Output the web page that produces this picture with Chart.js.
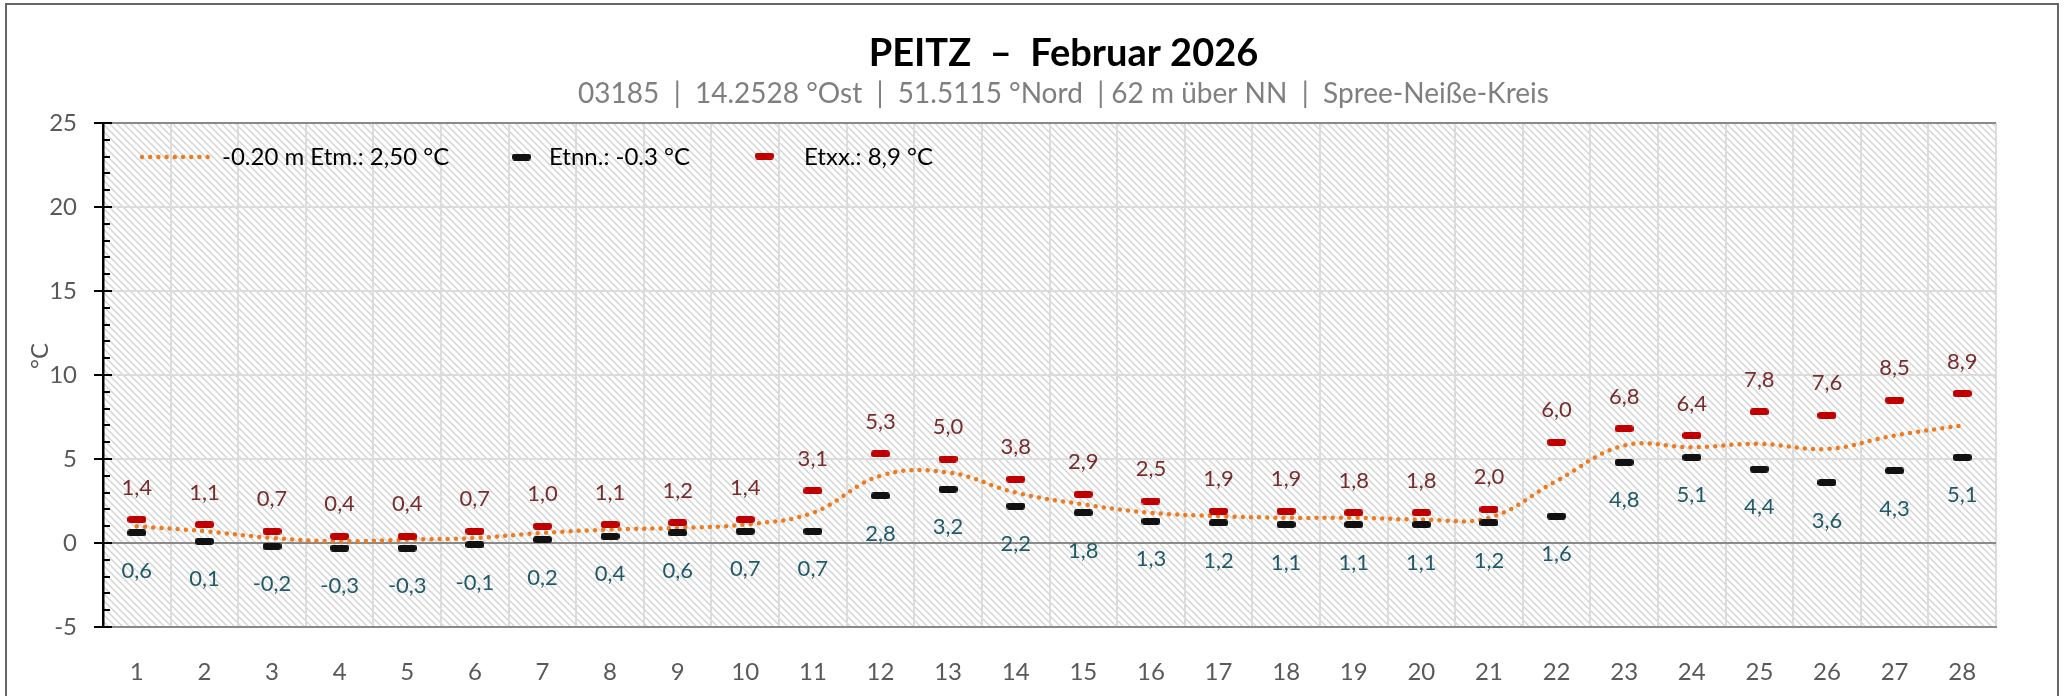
<!DOCTYPE html>
<html lang="de">
<head>
<meta charset="utf-8">
<title>Peitz – Februar 2026</title>
<script src="https://cdn.jsdelivr.net/npm/chart.js@4.4.1/dist/chart.umd.min.js"></script>
<style>
  html, body { margin: 0; padding: 0; background: #fff; }
  #wrap { width: 2068px; height: 696px; position: relative; }
</style>
</head>
<body>
<div id="wrap"><canvas id="ct-chart"></canvas></div>
<script>
"use strict";

// Tage im Februar
const tage = ["1", "2", "3", "4", "5", "6", "7", "8", "9", "10", "11", "12", "13", "14",
              "15", "16", "17", "18", "19", "20", "21", "22", "23", "24", "25", "26", "27", "28"];

// -0.20 m Erdboden: Tagesmittel
const tagesMittel = [1.0, 0.7, 0.3, 0.1, 0.2, 0.3, 0.6, 0.8, 0.9, 1.1, 1.8, 4.0, 4.2, 3.0,
                     2.3, 1.8, 1.6, 1.5, 1.5, 1.4, 1.5, 3.7, 5.8, 5.7, 5.9, 5.6, 6.4, 7.0];

// Tagesminimum
const tagesMin = [0.6, 0.1, -0.2, -0.3, -0.3, -0.1, 0.2, 0.4, 0.6, 0.7, 0.7, 2.8, 3.2, 2.2,
                  1.8, 1.3, 1.2, 1.1, 1.1, 1.1, 1.2, 1.6, 4.8, 5.1, 4.4, 3.6, 4.3, 5.1];

// Tagesmaximum
const tagesMax = [1.4, 1.1, 0.7, 0.4, 0.4, 0.7, 1.0, 1.1, 1.2, 1.4, 3.1, 5.3, 5.0, 3.8,
                  2.9, 2.5, 1.9, 1.9, 1.8, 1.8, 2.0, 6.0, 6.8, 6.4, 7.8, 7.6, 8.5, 8.9];

const yMin = -5;
const yMax = 25;
const yStep = 5;

const titel = "PEITZ  \u2013  Februar 2026";
const untertitel = "03185  |  14.2528 °Ost  |  51.5115 °Nord  | 62 m über NN  |  Spree-Neiße-Kreis";
const legendenText = ["-0.20 m Etm.: 2,50 °C", "Etnn.: -0.3 °C", "Etxx.: 8,9 °C"];

const schrift = "Lato, 'Open Sans', sans-serif";
const orange = "#f07a1e";

// kleiner Strich als Punktmarke
function strich(farbe) {
    const c = document.createElement('canvas');
    c.width = 19;
    c.height = 7;
    const g = c.getContext('2d');
    g.fillStyle = farbe;
    g.beginPath();
    g.roundRect(0, 0, 19, 7, 3);
    g.fill();
    return c;
}

// Schraffur fuer die Zeichenflaeche
function schraffur() {
    const s = 7;
    const c = document.createElement('canvas');
    c.width = s;
    c.height = s;
    const g = c.getContext('2d');
    g.strokeStyle = '#d2d2d2';
    g.lineWidth = 1.3;
    g.beginPath();
    g.moveTo(-1, -1); g.lineTo(s + 1, s + 1);
    g.moveTo(-1, s - 1); g.lineTo(1, s + 1);
    g.moveTo(s - 1, -1); g.lineTo(s + 1, 1);
    g.stroke();
    return c;
}

const strichRot = strich('#c00000');
const strichSchwarz = strich('#111111');

const fmt = v => v.toFixed(1).replace('.', ',');

const hintergrund = {
    id: 'hintergrund',
    beforeDraw(chart) {
        const { ctx, chartArea: a } = chart;
        ctx.save();
        ctx.fillStyle = ctx.createPattern(schraffur(), 'repeat');
        ctx.fillRect(a.left, a.top, a.right - a.left, a.bottom - a.top);
        ctx.restore();
    }
};

const wertLabels = {
    id: 'wertLabels',
    afterDatasetsDraw(chart) {
        const ctx = chart.ctx;
        ctx.save();
        ctx.font = "22px " + schrift;
        ctx.textAlign = 'center';
        ctx.textBaseline = 'middle';
        [[2, -32, '#7a2c2c'], [1, 38, '#1f5a6b']].forEach(([di, dy, farbe]) => {
            const meta = chart.getDatasetMeta(di);
            const werte = chart.data.datasets[di].data;
            ctx.fillStyle = farbe;
            meta.data.forEach((pt, i) => ctx.fillText(fmt(werte[i]), pt.x, pt.y + dy));
        });
        ctx.restore();
    }
};

const rahmen = {
    id: 'rahmen',
    afterDraw(chart) {
        const { ctx, chartArea: a } = chart;
        const y = chart.scales.y;
        ctx.save();

        // innere Teilstriche der y-Achse
        ctx.strokeStyle = '#000';
        ctx.lineWidth = 2;
        ctx.beginPath();
        for (let v = yMin; v <= yMax; v++) {
            const py = Math.round(y.getPixelForValue(v));
            ctx.moveTo(a.left, py);
            ctx.lineTo(a.left + (v % yStep === 0 ? 9 : 7), py);
        }
        ctx.stroke();

        // Legende
        const ly = a.top + 34;
        ctx.font = "24px " + schrift;
        ctx.textBaseline = 'middle';
        ctx.fillStyle = '#000';
        ctx.strokeStyle = orange;
        ctx.lineWidth = 4.5;
        ctx.lineCap = 'round';
        ctx.setLineDash([0, 8.2]);
        ctx.beginPath();
        ctx.moveTo(a.left + 39, ly);
        ctx.lineTo(a.left + 105, ly);
        ctx.stroke();
        ctx.setLineDash([]);
        ctx.fillText(legendenText[0], a.left + 119, ly);
        ctx.drawImage(strichSchwarz, a.left + 409, ly - 3.5);
        ctx.fillText(legendenText[1], a.left + 446, ly);
        ctx.drawImage(strichRot, a.left + 652, ly - 4.5);
        ctx.fillText(legendenText[2], a.left + 701, ly);

        // Titel
        const mitte = (a.left + a.right) / 2 + 14;
        ctx.textAlign = 'center';
        ctx.font = "bold 38px " + schrift;
        ctx.fillText(titel, mitte, 54);
        ctx.font = "28px " + schrift;
        ctx.fillStyle = '#7f7f7f';
        ctx.fillText(untertitel, mitte, 94);

        // Achsentitel
        ctx.save();
        ctx.translate(40, 356);
        ctx.rotate(-Math.PI / 2);
        ctx.font = "24px " + schrift;
        ctx.fillStyle = '#595959';
        ctx.fillText('°C', 0, 0);
        ctx.restore();

        // aeusserer Rahmen
        ctx.strokeStyle = '#666';
        ctx.lineWidth = 2;
        ctx.strokeRect(6, 4, 2052, 720);
        ctx.restore();
    }
};

const ctx = document.getElementById('ct-chart').getContext('2d');

const chartConfig = {
    type: 'line',
    data: {
        labels: tage,
        datasets: [{
            label: legendenText[0],
            data: tagesMittel,
            borderColor: orange,
            borderWidth: 4.5,
            borderDash: [0, 8.2],
            borderCapStyle: 'round',
            tension: 0.4,
            pointRadius: 0,
            order: 3
        }, {
            label: legendenText[1],
            data: tagesMin,
            showLine: false,
            pointStyle: strichSchwarz,
            order: 2
        }, {
            label: legendenText[2],
            data: tagesMax,
            showLine: false,
            pointStyle: strichRot,
            order: 1
        }]
    },
    options: {
        responsive: true,
        maintainAspectRatio: false,
        animation: false,
        layout: {
            padding: { top: 123, right: 72, bottom: 0, left: 0 }
        },
        scales: {
            x: {
                offset: true,
                afterFit: s => { s.height = 69; },
                grid: {
                    offset: true,
                    drawTicks: false,
                    lineWidth: 2,
                    color: c => c.index >= tage.length ? '#8a8a8a' : '#dcdcdc'
                },
                border: { color: '#8a8a8a', width: 2 },
                ticks: {
                    autoSkip: false,
                    maxRotation: 0,
                    padding: 31,
                    color: '#595959',
                    font: { family: schrift, size: 24 }
                }
            },
            y: {
                min: yMin,
                max: yMax,
                afterFit: s => { s.width = 103; },
                grid: {
                    lineWidth: 2,
                    tickLength: 9,
                    tickColor: '#000',
                    color: c => (c.tick && (c.tick.value === 0 || c.tick.value === yMax || c.tick.value === yMin)) ? '#8a8a8a' : '#dcdcdc'
                },
                border: { color: '#000', width: 2.5 },
                ticks: {
                    stepSize: yStep,
                    padding: 17,
                    color: '#595959',
                    font: { family: schrift, size: 24 }
                }
            }
        },
        plugins: {
            legend: { display: false },
            tooltip: { enabled: false }
        }
    },
    plugins: [hintergrund, wertLabels, rahmen]
};

new Chart(ctx, chartConfig);
</script>
</body>
</html>
